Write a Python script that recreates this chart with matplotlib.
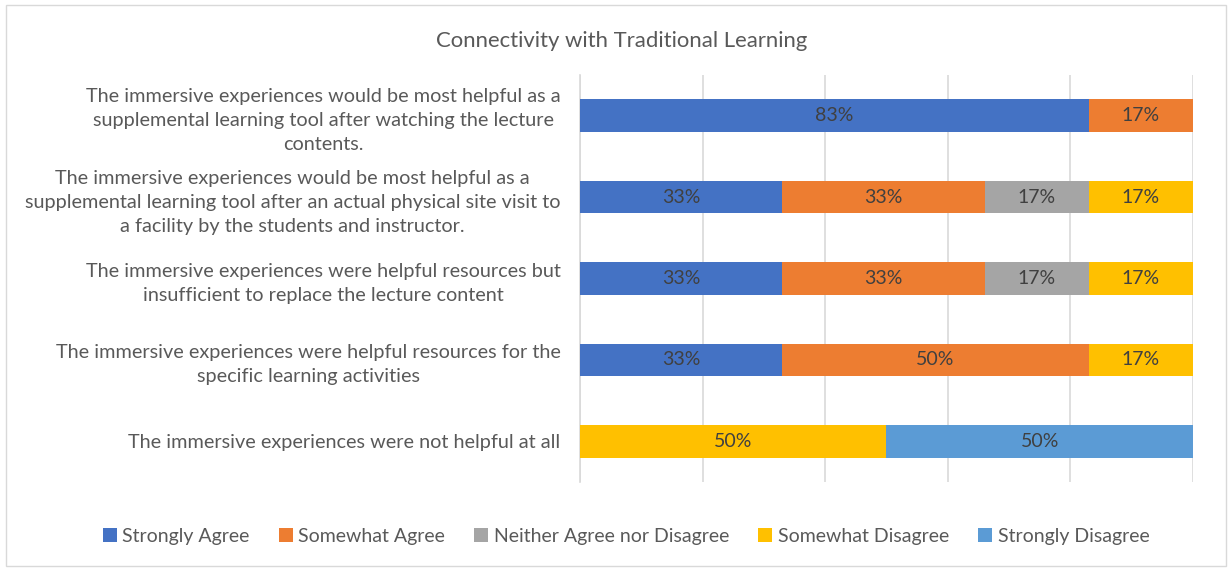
import matplotlib
matplotlib.use("Agg")
import matplotlib.pyplot as plt
from matplotlib.patches import Rectangle

plt.rcParams['font.family'] = ['Lato', 'DejaVu Sans']

questions = [
    "The immersive experiences would be most helpful as a\nsupplemental learning tool after watching the lecture\ncontents.",
    "The immersive experiences would be most helpful as a\nsupplemental learning tool after an actual physical site visit to\na facility by the students and instructor.",
    "The immersive experiences were helpful resources but\ninsufficient to replace the lecture content",
    "The immersive experiences were helpful resources for the\nspecific learning activities",
    "The immersive experiences were not helpful at all",
]
responses = ["Strongly Agree", "Somewhat Agree", "Neither Agree nor Disagree",
             "Somewhat Disagree", "Strongly Disagree"]
strongly_agree = [83, 33, 33, 33, 0]
somewhat_agree = [17, 33, 33, 50, 0]
neither = [0, 17, 17, 0, 0]
somewhat_disagree = [0, 17, 17, 17, 50]
strongly_disagree = [0, 0, 0, 0, 50]
colors = ["#4472C4", "#ED7D31", "#A5A5A5", "#FFC000", "#5B9BD5"]

series = [strongly_agree, somewhat_agree, neither, somewhat_disagree, strongly_disagree]

fig = plt.figure(figsize=(12.28, 5.68), dpi=100)
ax = fig.add_axes([0.4723, 0.1514, 0.4992, 0.7166])

text_col = "#595959"
y = range(len(questions))
left = [0] * len(questions)
for vals, name, c in zip(series, responses, colors):
    bars = ax.barh(y, vals, left=left, height=0.4, color=c, label=name, zorder=3)
    for b, v in zip(bars, vals):
        if v > 0:
            ax.text(b.get_x() + b.get_width() / 2, b.get_y() + b.get_height() / 2,
                    f"{v}%", ha="center", va="center", fontsize=14, color="#404040", zorder=4)
    left = [l + v for l, v in zip(left, vals)]

ax.set_xlim(0, 100)
ax.set_ylim(4.5, -0.5)
ax.set_xticks(range(0, 101, 20))
ax.tick_params(axis="x", length=0, labelbottom=False)
ax.tick_params(axis="y", length=0, pad=14)
ax.set_yticks(list(y))
ax.set_yticklabels(questions, fontsize=14.3, color=text_col, multialignment="center",
                   linespacing=1.5)
ax.grid(axis="x", color="#D9D9D9", linewidth=1.2, zorder=0)
for s in ["top", "right", "bottom"]:
    ax.spines[s].set_visible(False)
ax.spines["left"].set_color("#D9D9D9")
ax.spines["left"].set_linewidth(1.2)

fig.text(0.506, 0.928, "Connectivity with Traditional Learning", ha="center", va="center",
         fontsize=15.9, color=text_col)

fig.legend(loc="center", bbox_to_anchor=(0.51, 0.056), ncol=5, frameon=False,
           fontsize=14, labelcolor=text_col, handlelength=0.7, handleheight=0.7,
           handletextpad=0.3, columnspacing=1.5)

fig.patches.append(Rectangle((0.005, 0.004), 0.993, 0.987, transform=fig.transFigure,
                             fill=False, edgecolor="#D9D9D9", linewidth=1))

fig.savefig("out.png", dpi=100)
